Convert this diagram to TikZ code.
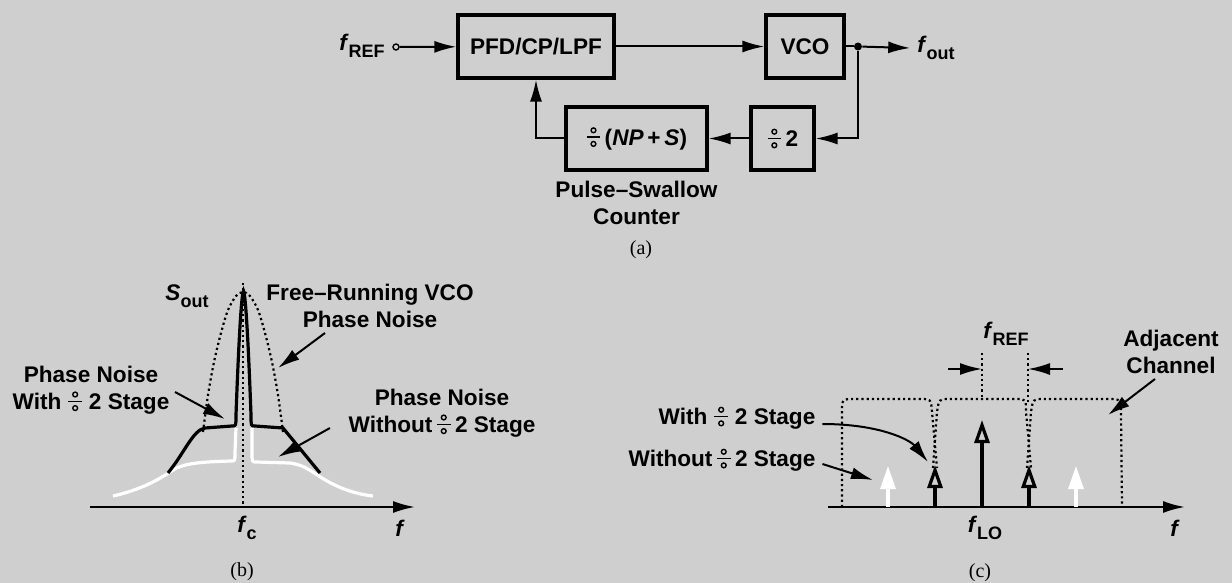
\documentclass[tikz,border=0pt]{standalone}
\usepackage{fontspec}
\setmainfont{Liberation Sans}
\newfontfamily\capfont{Liberation Serif}
\usetikzlibrary{arrows.meta,positioning}
\definecolor{bggray}{RGB}{207,207,207}
\newcommand{\divsign}{\tikz[baseline=0pt,x=1pt,y=1pt,line width=0.7pt]{%
  \draw (0,7.4) circle (1.2); \draw (-3.4,4) -- (3.4,4); \draw (0,0.6) circle (1.2);}}
\newcommand{\fsub}[2]{\textit{#1}\raisebox{-0.55ex}{\fontsize{9}{10}\selectfont #2}}
\tikzset{
  blk/.style={draw,line width=1.6pt,minimum height=31.5pt,inner sep=0pt},
  wire/.style={line width=1pt},
  arr/.style={wire,-{Latex[length=11pt,width=6pt]}},
  axis/.style={line width=1.1pt,-{Latex[length=11pt,width=6pt]}},
  dots/.style={line width=1.1pt,dash pattern=on 1.1pt off 1.5pt},
  lbl/.style={align=center},
  figcap/.style={font=\capfont\fontsize{10}{12}\selectfont},
  imp/.style={line width=1.6pt,-{Triangle[length=11.5pt,width=7.5pt,fill=bggray]}},
  wimp/.style={white,line width=1.6pt,-{Triangle[length=11.5pt,width=7.5pt]}},
}
\begin{document}
\begin{tikzpicture}[x=0.5pt,y=-0.5pt,font=\bfseries\fontsize{11.3}{13.5}\selectfont]
  \fill[bggray] (0,0) rectangle (1232,583);
  \useasboundingbox (0,0) rectangle (1232,583);
  % (a) pulse-swallow loop
  \node[blk,minimum width=78pt] (pfd) at (536,46.5) {PFD/CP/LPF};
  \node[blk,minimum width=39pt] (vco) at (805,46.5) {VCO};
  \node[blk,minimum width=31.5pt] (div2) at (782.5,138.5) {\divsign\,2};
  \node[blk,minimum width=70.5pt] (nps) at (636.5,138.5) {\divsign\,(\textit{NP}\,+\,\textit{S})};
  \node[lbl,below=1pt of nps] (psc) {Pulse--Swallow\\Counter};
  \node (fref) at (362,46) {\fsub{f}{REF}};
  \node[circle,draw,line width=0.7pt,inner sep=0pt,minimum size=3pt] (in) at (396,47) {};
  \node[circle,fill,inner sep=0pt,minimum size=4pt] (tap) at (858,46.5) {};
  \node (fout) at (936,48) {\fsub{f}{out}};
  \draw[arr] (in) -- (pfd);
  \draw[arr] (pfd) -- (vco);
  \draw[wire] (vco) -- (tap);
  \draw[arr] (tap) -- (fout.west);
  \draw[arr] (tap) |- (div2.east);
  \draw[arr] (div2) -- (nps);
  \draw[arr] (nps.west) -| (pfd.south);
  \node[figcap] (capa) at (641,250) {(a)};
  % (b) output spectrum
  \coordinate (bo) at (90,507);
  \coordinate (bx) at (415,507);
  \draw[axis] (bo) -- (bx);
  \draw[dots] (243,283) -- (243,507);
  \draw[dots] plot[smooth] coordinates {(203,432) (208,395) (214,362) (221,333) (228,310) (236,296) (243,292) (250,296) (258,310) (265,333) (272,362) (278,395) (283,432)};
  \draw[white,line width=1.6pt] (113,496) .. controls (140,490) and (158,480) .. (170,472)
    .. controls (182,463) and (200,462) .. (231,461) .. controls (235,461) .. (235,452) -- (236,428);
  \draw[white,line width=1.6pt] (252,428) -- (252,452) .. controls (252,462) .. (256,462) -- (290,463)
    .. controls (305,465) and (312,472) .. (322,478) .. controls (338,488) and (355,494) .. (373,496);
  \draw[line width=1.6pt] (168,473) .. controls (185,452) and (193,430) .. (205,428) -- (232,426)
    .. controls (236,426) .. (236,415) .. controls (238,360) and (241,295) .. (243.5,291)
    .. controls (246,295) and (249,360) .. (251,415) .. controls (251,426) .. (255,426)
    -- (283,428) -- (320,473);
  \node (sout) at (187,296) {\fsub{S}{out}};
  \node[lbl] (freelbl) at (370,306) {Free--Running VCO\\Phase Noise};
  \coordinate (freefrom) at (325,333);
  \coordinate (freetip) at (278,368);
  \draw[arr] (freefrom) -- (freetip);
  \node[lbl] (withlbl) at (91,390) {Phase Noise\\With \divsign\ 2 Stage};
  \coordinate (withfrom) at (175,392);
  \coordinate (withtip) at (225,419);
  \draw[arr] (withfrom) -- (withtip);
  \node[lbl] (wolbl) at (442,413) {Phase Noise\\Without\,\divsign\,2 Stage};
  \coordinate (wofrom) at (330,428);
  \coordinate (wotip) at (278,457);
  \draw[arr] (wofrom) -- (wotip);
  \node (fc) at (247,528) {\fsub{f}{c}};
  \node (fb) at (400,528) {\textit{f}};
  \node[figcap] (capb) at (242,572) {(b)};
  % (c) channels and spurs
  \coordinate (co) at (828,507);
  \coordinate (cx) at (1185,507);
  \draw[axis] (co) -- (cx);
  \draw[dots] (842,507) -- (842,412) .. controls (842,399) .. (855,399) -- (920,399)
    .. controls (931,399) .. (932,412) -- (937,468);
  \draw[dots] (933,468) -- (937,412) .. controls (939,399) .. (950,399) -- (1016,399)
    .. controls (1026,399) .. (1026,412) -- (1031,468);
  \draw[dots] (1027,468) -- (1031,412) .. controls (1033,399) .. (1044,399) -- (1108,399)
    .. controls (1121,399) .. (1121,415) -- (1122,507);
  \draw[dots] (982,353) -- (982,399);
  \draw[dots] (1028,353) -- (1028,405);
  \node (frefc) at (1006,334) {\fsub{f}{REF}};
  \coordinate (gl) at (948,369);
  \coordinate (glt) at (982,369);
  \coordinate (gr) at (1063,369);
  \coordinate (grt) at (1028,369);
  \draw[arr] (gl) -- (glt);
  \draw[arr] (gr) -- (grt);
  \draw[imp] (982,507) -- (982,420);
  \draw[imp] (935,507) -- (935,465);
  \draw[imp] (1029,507) -- (1029,465);
  \draw[wimp] (888,507) -- (888,466);
  \draw[wimp] (1076,507) -- (1076,466);
  \node (withc) at (737,418) {With \divsign\ 2 Stage};
  \node (withoutc) at (722,460) {Without\,\divsign\,2 Stage};
  \coordinate (withctip) at (928,462);
  \coordinate (withoutctip) at (873,480);
  \draw[arr] ([yshift=-3pt]withc.east) .. controls (880,424) and (910,440) .. (withctip);
  \draw[arr] ([yshift=-2pt]withoutc.east) -- (withoutctip);
  \node[lbl] (adjc) at (1171,352) {Adjacent\\Channel};
  \coordinate (adjfrom) at (1155,379);
  \coordinate (adjtip) at (1108,415);
  \draw[arr] (adjfrom) -- (adjtip);
  \node (flo) at (985,528) {\fsub{f}{LO}};
  \node (fcx) at (1175,528) {\textit{f}};
  \node[figcap] (capc) at (980,573) {(c)};
\end{tikzpicture}
\end{document}
